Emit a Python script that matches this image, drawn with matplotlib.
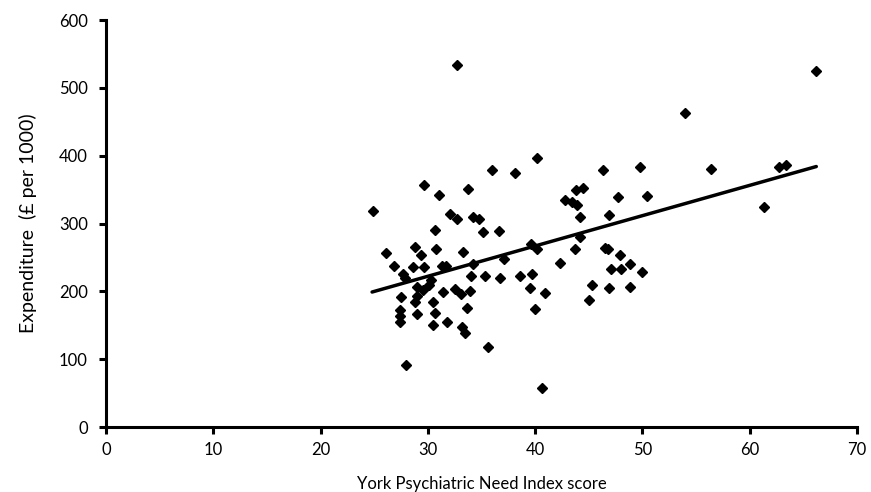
import matplotlib
matplotlib.use("Agg")
import matplotlib.pyplot as plt

plt.rcParams["font.family"] = ["Lato", "DejaVu Sans"]

# York Psychiatric Need Index score vs expenditure (one point per area)
need_index = [
    24.9, 26.1, 26.8, 27.7, 27.9, 27.5, 27.4, 27.4, 27.4, 28.0,
    28.8, 29.4, 28.6, 29.6, 29.6, 31.0, 33.7, 30.7, 30.8, 30.1,
    29.5, 29.0, 29.0, 28.8, 30.3, 29.0, 30.5, 30.7, 30.5, 31.3,
    31.7, 31.4, 31.8, 32.1, 32.7, 32.5, 33.1, 33.3, 33.9, 33.6,
    33.2, 33.5, 32.7, 34.2, 34.8, 35.1, 34.2, 34.0, 35.3, 35.6,
    36.0, 36.6, 36.7, 37.1, 38.1, 38.6, 39.5, 39.7, 39.6, 40.2,
    40.0, 40.9, 40.6, 40.2, 42.3, 42.8, 43.4, 43.9, 43.8, 44.5,
    44.2, 44.2, 43.7, 45.3, 45.0, 46.3, 47.7, 46.9, 46.5, 46.8,
    47.9, 48.8, 47.1, 48.0, 46.9, 48.8, 49.8, 50.4, 50.0, 54.0,
    56.4, 61.3, 62.7, 63.4, 66.2,
]
expenditure = [
    318, 257, 238, 226, 220, 191, 173, 164, 155, 92,
    265, 253, 236, 236, 357, 342, 351, 290, 262, 209,
    202, 207, 193, 184, 217, 167, 185, 168, 151, 237,
    237, 199, 155, 314, 307, 204, 196, 258, 201, 175,
    147, 138, 534, 310, 307, 288, 240, 222, 223, 118,
    379, 289, 220, 247, 375, 222, 205, 226, 270, 262,
    174, 197, 58, 396, 242, 335, 331, 327, 349, 353,
    309, 280, 262, 210, 187, 379, 339, 313, 264, 262,
    254, 240, 233, 233, 205, 206, 384, 340, 229, 463,
    380, 324, 383, 386, 525,
]

# fitted regression line end points
fit_x = [24.8, 66.2]
fit_y = [199, 384]

x_ticks = [0, 10, 20, 30, 40, 50, 60, 70]
y_ticks = [0, 100, 200, 300, 400, 500, 600]

fig = plt.figure(figsize=(8.71, 4.92), dpi=100)
ax = fig.add_axes([0.1217, 0.1321, 0.8623, 0.8272])

ax.plot(need_index, expenditure, "D", color="black", markersize=5, linestyle="none")
ax.plot(fit_x, fit_y, color="black", linewidth=2.5, solid_capstyle="round")

ax.set_xlim(0, 70)
ax.set_ylim(0, 600)
ax.set_xticks(x_ticks)
ax.set_yticks(y_ticks)

for side in ["top", "right"]:
    ax.spines[side].set_visible(False)
for side in ["left", "bottom"]:
    ax.spines[side].set_linewidth(2.2)

ax.tick_params(direction="out", length=5, width=2.2, labelsize=12)
ax.tick_params(axis="x", pad=6)
ax.tick_params(axis="y", pad=8)
ax.set_xlabel("York Psychiatric Need Index score", fontsize=12, labelpad=13)
ax.set_ylabel("Expenditure  (\u00a3 per 1000)", fontsize=14, labelpad=16)

fig.savefig("out.png", dpi=100)
